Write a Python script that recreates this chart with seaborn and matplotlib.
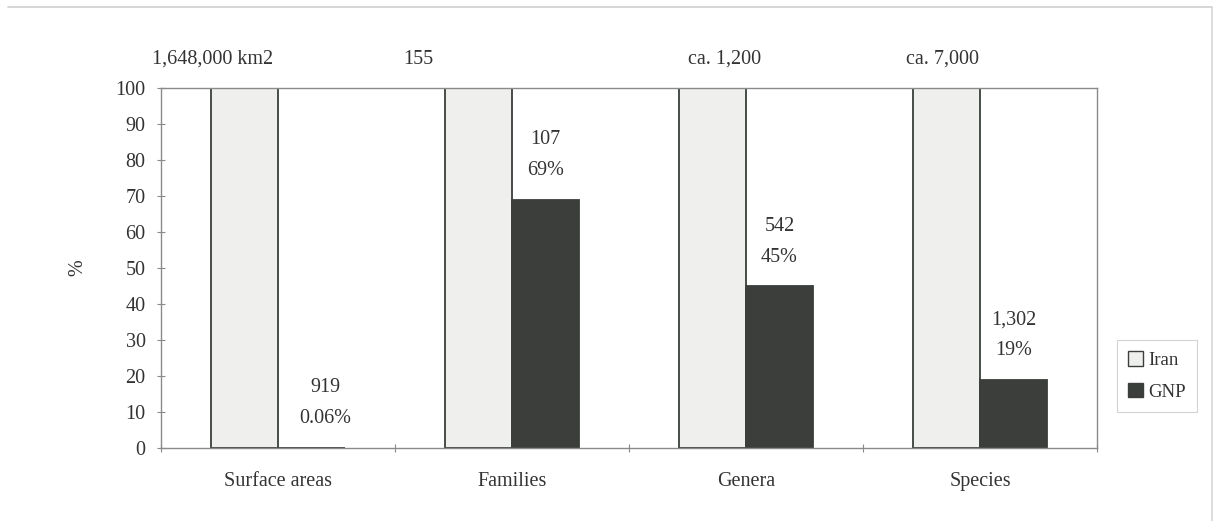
import matplotlib
matplotlib.use("Agg")
import matplotlib.pyplot as plt
import seaborn as sns
import pandas as pd
from matplotlib.lines import Line2D

categories = ["Surface areas", "Families", "Genera", "Species"]
iran_values = [100, 100, 100, 100]
gnp_values = [0.06, 69, 45, 19]
top_labels = ["1,648,000 km2", "155", "ca. 1,200", "ca. 7,000"]
gnp_labels = ["919\n0.06%", "107\n69%", "542\n45%", "1,302\n19%"]
series_names = ["Iran", "GNP"]

# label horizontal offsets (category units) as seen in the reference
top_offsets = [-0.28, -0.40, -0.09, -0.16]
gnp_offsets = [0.06, 0.0, 0.0, 0.0]

df = pd.DataFrame({
    "category": categories * 2,
    "series": [series_names[0]] * 4 + [series_names[1]] * 4,
    "value": iran_values + gnp_values,
})

sns.set_theme(style="white")
plt.rcParams["font.family"] = ["Liberation Serif", "DejaVu Serif"]

fig = plt.figure(figsize=(12.17, 5.21), dpi=100)
ax = fig.add_axes([161 / 1217, 1 - 448 / 521, (1097 - 161) / 1217, (448 - 88) / 521])

iran_col = "#efefed"
gnp_col = "#3b3e3b"
edge_col = "#3a3f3a"
frame_col = "#8a8a8a"
text_col = "#333333"
fs = 14.5

sns.barplot(data=df, x="category", y="value", hue="series", order=categories,
            hue_order=series_names, palette=[iran_col, gnp_col], width=0.573,
            edgecolor=edge_col, linewidth=1.3, ax=ax, legend=False, errorbar=None)

ax.set_ylim(0, 100)
ax.set_xlim(-0.5, len(categories) - 0.5)
ax.set_yticks(range(0, 101, 10))
ax.tick_params(axis="y", direction="inout", length=6, width=0.8, color=frame_col,
               labelsize=fs, labelcolor=text_col, pad=8, left=True)
ax.set_xticks(range(len(categories)))
ax.set_xticklabels(categories)
ax.tick_params(axis="x", length=0, labelsize=fs, labelcolor=text_col, pad=17)
ax.set_xticks([i + 0.5 for i in range(-1, len(categories))], minor=True)
ax.tick_params(axis="x", which="minor", direction="inout", length=6, width=0.8,
               color=frame_col, bottom=True)
ax.set_xlabel("")
ax.set_ylabel("%", fontsize=fs, color=text_col, labelpad=20)
for s in ax.spines.values():
    s.set_visible(True)
    s.set_color(frame_col)
    s.set_linewidth(1.0)

for i, lab in enumerate(top_labels):
    ax.text(i + top_offsets[i], 108.0, lab, ha="center", va="center",
            fontsize=fs, color=text_col, clip_on=False)

for i, lab in enumerate(gnp_labels):
    ax.annotate(lab, xy=(i + 0.143 + gnp_offsets[i], gnp_values[i]),
                xytext=(0, 14), textcoords="offset points", ha="center", va="bottom",
                fontsize=fs, color=text_col, linespacing=1.85)

handles = [plt.Rectangle((0, 0), 1, 1, facecolor=iran_col, edgecolor=edge_col, linewidth=1.0),
           plt.Rectangle((0, 0), 1, 1, facecolor=gnp_col, edgecolor=edge_col, linewidth=1.0)]
leg = fig.legend(handles, series_names, loc="center", bbox_to_anchor=(1157 / 1217, 1 - 376 / 521),
                 frameon=True, fontsize=13.5, handlelength=0.8, handleheight=0.8,
                 handletextpad=0.3, labelspacing=0.75, borderpad=0.6, fancybox=False)
leg.get_frame().set_edgecolor("#c8c8c8")
leg.get_frame().set_linewidth(0.8)
for t in leg.get_texts():
    t.set_color(text_col)

# faint outer frame lines seen in the scan
fig.add_artist(Line2D([8 / 1217, 1212 / 1217], [1 - 7 / 521, 1 - 7 / 521],
                      color="#d0d0d0", linewidth=1.2, transform=fig.transFigure))
fig.add_artist(Line2D([1212 / 1217, 1212 / 1217], [0, 1 - 7 / 521],
                      color="#d8d8d8", linewidth=1.2, transform=fig.transFigure))

fig.savefig("out.png", dpi=100)
